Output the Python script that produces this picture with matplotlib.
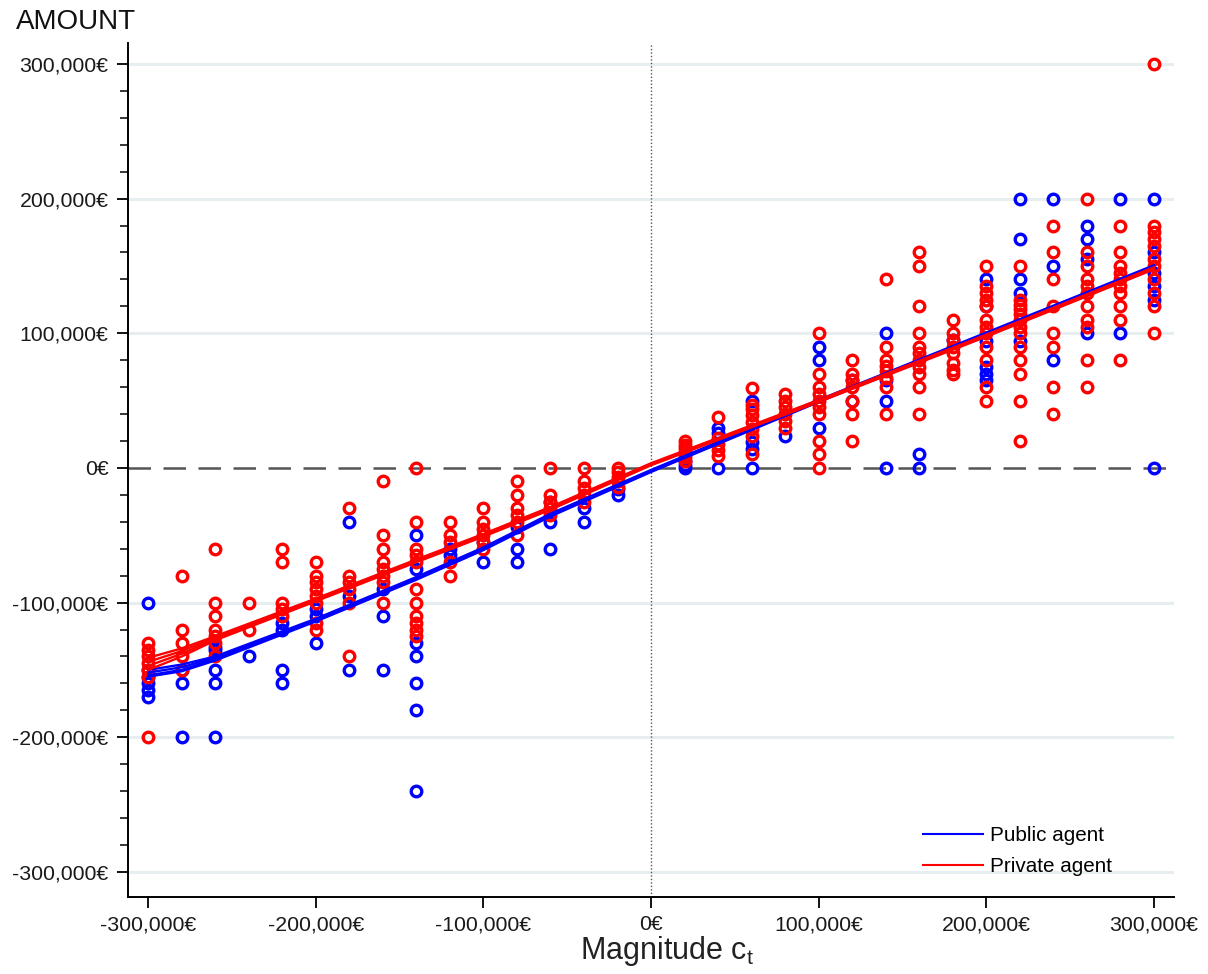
import matplotlib
matplotlib.use("Agg")
from matplotlib import pyplot as plt
from matplotlib.lines import Line2D
from matplotlib.ticker import MultipleLocator, FuncFormatter

plt.rcParams['font.family'] = ['Liberation Sans', 'DejaVu Sans']
plt.rcParams['mathtext.fontset'] = 'custom'
plt.rcParams['mathtext.rm'] = 'Liberation Sans'

# magnitude columns (thousand euros)
cols = [-300, -280, -260, -240, -220, -200, -180, -160, -140, -120, -100, -80, -60, -40, -20,
        20, 40, 60, 80, 100, 120, 140, 160, 180, 200, 220, 240, 260, 280, 300]

# amounts chosen by public agents (thousand euros), one list per column
public_vals = [
    [-100, -150, -155, -160, -165, -170],
    [-150, -160, -200],
    [-133, -135, -150, -160, -200],
    [-140],
    [-115, -120, -150, -160],
    [-105, -110, -130],
    [-40, -95, -150],
    [-90, -110, -150],
    [-50, -75, -130, -140, -160, -180, -240],
    [-60, -65],
    [-55, -70],
    [-44, -60, -70],
    [-25, -40, -60],
    [-30, -40],
    [-16, -20],
    [0, 2, 5],
    [30, 26, 0],
    [50, 19, 14, 0],
    [24],
    [90, 80, 30],
    [65, 50],
    [100, 65, 50, 0],
    [10, 0],
    [95],
    [140, 120, 94, 75, 70, 65],
    [200, 170, 140, 130, 94],
    [200, 150, 80],
    [180, 170, 155, 100],
    [200, 100],
    [200, 160, 145, 135, 125, 0],
]

# amounts chosen by private agents
private_vals = [
    [-130, -135, -140, -145, -150, -155, -200],
    [-80, -120, -130, -140, -150],
    [-60, -100, -110, -120, -125, -130, -140],
    [-100, -120],
    [-60, -70, -100, -105, -110],
    [-70, -80, -85, -90, -95, -100, -115, -120],
    [-30, -80, -85, -90, -100, -140],
    [-10, -50, -60, -70, -75, -80, -85, -100],
    [0, -40, -60, -65, -70, -90, -100, -110, -115, -120, -125],
    [-40, -50, -55, -70, -80],
    [-30, -40, -45, -50, -55, -60],
    [-10, -20, -30, -35, -40, -50],
    [0, -20, -25, -30, -35],
    [0, -10, -15, -20, -25],
    [0, -3, -7, -10, -14],
    [20, 17, 15, 12, 10, 8, 5],
    [38, 22, 18, 13, 9],
    [59, 47, 44, 39, 34, 29, 24, 10],
    [55, 50, 45, 40, 35, 30],
    [100, 70, 60, 55, 50, 45, 40, 20, 10, 0],
    [80, 70, 65, 60, 50, 40, 20],
    [140, 90, 80, 76, 72, 67, 60, 40],
    [160, 150, 120, 100, 90, 85, 80, 75, 70, 60, 40],
    [110, 100, 95, 90, 85, 78, 73, 70],
    [150, 135, 130, 125, 120, 110, 105, 100, 90, 80, 60, 50],
    [150, 125, 121, 118, 114, 110, 105, 100, 90, 80, 70, 50, 20],
    [180, 160, 140, 120, 100, 90, 60, 40],
    [200, 160, 150, 140, 135, 130, 120, 110, 105, 80, 60],
    [180, 160, 150, 145, 140, 135, 130, 120, 110, 80],
    [300, 180, 175, 170, 165, 155, 150, 140, 130, 120, 100],
]

# fitted curves (several estimates per agent type)
fit_x = [-300, -280, -260, -200, -140, -100, -60, 0, 100, 200, 300]
public_fits = [
    [-150, -146, -140, -112, -81, -59, -34, -1.5, 50.5, 100.5, 150.5],
    [-152, -148, -141, -113, -82, -60, -35, -2, 50, 100, 150],
    [-154, -150, -142, -113.5, -82.5, -60.5, -35.5, -2.5, 49.5, 99.5, 149.5],
    [-155, -151, -143, -114, -83, -61, -36, -3, 49, 99, 149],
]
private_fits = [
    [-141, -134, -125, -97, -68, -49, -29, 3.5, 50.5, 99, 149],
    [-144, -136, -126, -98, -69, -50, -30, 3, 50, 98.5, 148.5],
    [-147, -138, -127, -98.5, -69.5, -50.5, -30.5, 2.5, 49.5, 98, 148],
    [-150, -140, -128, -99, -70, -51, -31, 2, 49, 97.5, 147.5],
]

BLUE = '#0000ff'
RED = '#ff0000'

fig = plt.figure(figsize=(12.08, 9.74), dpi=100)
ax = fig.add_axes([0.106, 0.0791, 0.8659, 0.8768])

for y in [-300, -200, -100, 100, 200, 300]:
    ax.axhline(y, color='#e6eef0', lw=2.2, zorder=0)
ax.axhline(0, color='#555555', lw=1.8, dashes=(9, 5), zorder=1)
ax.axvline(0, color='#555555', lw=1.0, ls=(0, (1, 1.5)), zorder=1)

for c, vals in zip(cols, public_vals):
    ax.plot([c] * len(vals), vals, 'o', ms=7.6, mfc='none', mec=BLUE, mew=2.4, zorder=2)
for c, vals in zip(cols, private_vals):
    ax.plot([c] * len(vals), vals, 'o', ms=7.6, mfc='none', mec=RED, mew=2.4, zorder=3)

for f in public_fits:
    ax.plot(fit_x, f, color=BLUE, lw=1.7, zorder=4)
for f in private_fits:
    ax.plot(fit_x, f, color=RED, lw=1.7, zorder=4)

ax.set_xlim(-312, 312)
ax.set_ylim(-318.6, 315.6)

for s in ['top', 'right']:
    ax.spines[s].set_visible(False)
for s in ['left', 'bottom']:
    ax.spines[s].set_linewidth(1.4)

def euro(v, pos):
    return f"{v * 1000:,.0f}€"

ax.xaxis.set_major_locator(MultipleLocator(100))
ax.yaxis.set_major_locator(MultipleLocator(100))
ax.yaxis.set_minor_locator(MultipleLocator(20))
ax.xaxis.set_major_formatter(FuncFormatter(euro))
ax.yaxis.set_major_formatter(FuncFormatter(euro))
ax.tick_params(axis='both', which='major', length=8, width=1.3, labelsize=15.3,
               labelcolor='#1a1a1a', pad=6)
ax.tick_params(axis='x', which='major', pad=5)
ax.tick_params(axis='y', which='minor', length=6, width=1.1)

fig.text(0.013, 0.977, 'AMOUNT', fontsize=20, va='center', ha='left', color='#111111')
fig.text(0.552, 0.024, r'Magnitude c$_{\mathrm{t}}$', fontsize=22, ha='center',
         va='center', color='#222222')

handles = [Line2D([], [], color=BLUE, lw=1.5), Line2D([], [], color=RED, lw=1.5)]
ax.legend(handles, ['Public agent', 'Private agent'], loc='upper left',
          bbox_to_anchor=(0.760, 0.083), frameon=False, borderaxespad=0, borderpad=0,
          fontsize=14.9, handlelength=2.9, handletextpad=0.35, labelspacing=0.6)

fig.savefig('out.png', dpi=100)
